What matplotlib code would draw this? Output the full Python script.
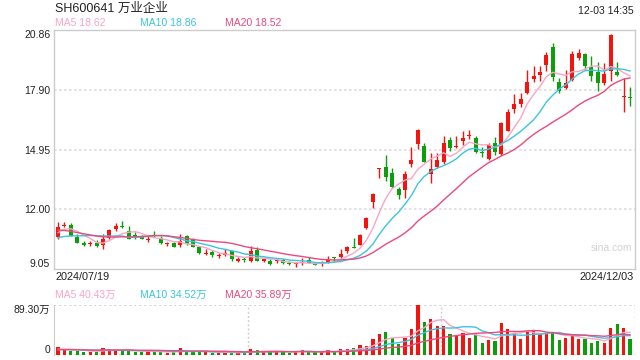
import matplotlib
matplotlib.use('Agg')
import matplotlib.pyplot as plt
import numpy as np
import pandas as pd

plt.rcParams['font.family'] = ['Liberation Sans', 'Noto Sans CJK SC', 'DejaVu Sans']

# 日K 2024/07/19 - 2024/12/03
opens = [10.65, 11.16, 11.23, 10.65, 10.35, 10.27, 10.35, 10.22, 10.58, 11.03,
         11.19, 10.93, 10.70, 10.65, 10.50, 10.72, 10.60, 10.27, 10.34, 10.25,
         10.70, 10.52, 10.14, 9.79, 9.87, 9.68, 9.73, 9.96, 9.46, 9.51,
         9.45, 9.99, 9.47, 9.45, 9.43, 9.48, 9.35, 9.28, 9.33, 9.48,
         9.35, 9.31, 9.40, 9.61, 9.64, 9.94, 10.16, 10.25, 11.08, 12.37,
         14.02, 14.08, 13.80, 12.99, 12.96, 14.23, 15.22, 15.14, 13.74, 14.12,
         14.33, 15.45, 15.07, 15.40, 15.63, 15.54, 14.84, 14.51, 15.29, 14.74,
         15.90, 16.99, 17.23, 17.76, 18.47, 18.67, 19.13, 20.04, 18.31, 18.01,
         18.39, 19.50, 19.69, 19.03, 18.80, 18.26, 18.84, 18.80, 17.55, 17.53]
highs = [11.36, 11.36, 11.31, 10.77, 10.45, 10.45, 10.48, 10.77, 11.01, 11.31,
         11.41, 11.18, 10.90, 10.75, 10.68, 10.95, 10.68, 10.40, 10.37, 10.78,
         10.73, 10.57, 10.17, 10.06, 9.99, 9.83, 10.02, 9.99, 9.66, 9.63,
         10.20, 10.16, 9.61, 9.54, 9.56, 9.56, 9.46, 9.41, 9.61, 9.64,
         9.41, 9.45, 9.69, 9.66, 10.02, 10.20, 10.58, 10.78, 11.64, 12.81,
         14.06, 14.69, 14.05, 13.09, 13.92, 15.07, 15.96, 15.29, 14.77, 14.81,
         15.65, 15.57, 15.62, 15.87, 15.92, 15.62, 15.09, 15.29, 15.57, 16.33,
         16.97, 17.73, 17.76, 18.88, 19.11, 19.11, 19.79, 20.22, 18.51, 18.92,
         19.83, 19.94, 19.74, 19.58, 19.30, 19.25, 20.70, 19.30, 18.51, 18.08]
lows = [10.53, 11.11, 10.68, 10.32, 10.20, 10.20, 10.15, 10.02, 10.52, 10.95,
        11.06, 10.53, 10.53, 10.52, 10.37, 10.62, 10.27, 10.20, 10.12, 10.12,
        10.24, 10.12, 9.81, 9.74, 9.66, 9.59, 9.69, 9.46, 9.41, 9.41,
        9.41, 9.43, 9.41, 9.23, 9.33, 9.31, 9.23, 9.13, 9.23, 9.33,
        9.23, 9.18, 9.33, 9.41, 9.59, 9.83, 10.09, 10.22, 11.05, 12.09,
        13.57, 13.42, 13.04, 12.53, 12.58, 14.12, 14.99, 14.33, 13.29, 14.03,
        14.25, 14.91, 15.04, 15.17, 15.49, 14.79, 14.59, 14.46, 14.71, 14.71,
        15.87, 16.77, 17.07, 17.73, 18.31, 18.34, 18.84, 18.34, 17.76, 17.96,
        18.34, 19.38, 18.88, 18.34, 17.84, 18.14, 18.34, 18.59, 16.81, 17.14]
closes = [11.11, 11.21, 10.70, 10.35, 10.25, 10.32, 10.20, 10.53, 10.98, 11.18,
          11.11, 10.55, 10.67, 10.55, 10.53, 10.68, 10.35, 10.32, 10.15, 10.42,
          10.27, 10.15, 9.86, 9.83, 9.73, 9.71, 9.83, 9.53, 9.56, 9.48,
          9.94, 9.46, 9.51, 9.31, 9.46, 9.36, 9.31, 9.31, 9.36, 9.36,
          9.25, 9.35, 9.51, 9.58, 9.81, 10.16, 10.11, 10.73, 11.59, 12.76,
          14.04, 13.62, 13.13, 12.73, 13.74, 14.45, 15.93, 14.36, 14.00, 14.45,
          15.27, 15.04, 15.12, 15.54, 15.68, 14.84, 14.78, 15.17, 14.84, 16.28,
          16.82, 17.22, 17.48, 18.31, 18.59, 18.82, 19.66, 18.55, 17.88, 18.26,
          19.71, 19.74, 19.12, 18.62, 18.27, 18.70, 20.65, 18.64, 17.58, 17.50]
# 成交量 (万手)
volumes = [13.8, 8.4, 7.2, 7.2, 4.8, 4.8, 6.0, 12.0, 10.2, 8.4,
           7.8, 7.2, 4.8, 5.4, 7.2, 5.4, 4.8, 3.0, 4.2, 12.0,
           5.4, 5.4, 5.4, 4.8, 3.0, 3.0, 4.8, 3.6, 3.6, 3.0,
           10.8, 7.8, 5.4, 6.0, 6.0, 6.0, 3.6, 4.8, 7.8, 5.4,
           4.8, 4.8, 7.8, 5.4, 9.6, 9.6, 11.4, 16.8, 15.0, 27.6,
           37.2, 40.8, 30.0, 19.2, 30.6, 46.1, 89.3, 58.7, 64.1, 51.5,
           51.5, 37.2, 35.4, 38.4, 30.0, 38.4, 21.6, 27.0, 24.6, 57.5,
           46.1, 38.4, 28.2, 41.4, 44.4, 36.6, 39.6, 39.6, 26.4, 30.6,
           36.0, 28.2, 28.2, 21.6, 24.6, 21.6, 48.5, 55.7, 48.5, 28.2]

# 窗口之前的日子（估计，只给均线起点用）
prior_closes = [11.70, 11.62, 11.55, 11.48, 11.40, 11.35, 11.30, 11.22, 11.10, 10.95,
                10.60, 10.45, 10.30, 10.20, 10.20, 10.35, 10.60, 11.00, 11.19]
prior_volumes = [9.5, 10.2, 8.8, 9.0, 11.0, 9.6, 8.4, 9.2, 10.0, 8.6,
                 7.8, 8.2, 9.4, 7.6, 8.8, 7.4, 8.0, 9.0, 10.4]

price_ticks = [9.05, 12.00, 14.95, 17.90, 20.86]
price_ma_text = ['MA5 18.62', 'MA10 18.86', 'MA20 18.52']
vol_ma_text = ['MA5 40.43万', 'MA10 34.52万', 'MA20 35.89万']
vol_top = 89.30
first_date, last_date = '2024/07/19', '2024/12/03'

RED = '#f3140e'
GREEN = '#0c9f0c'
MA_COLORS = ['#f7a6c6', '#3cc4e0', '#ea4a7c']
GRID = '#dddddd'
FRAME = '#cccccc'

n = len(closes)
x = np.arange(n)
o = np.array(opens); c = np.array(closes)
up = c >= o
colors = [RED if u else GREEN for u in up]

def ma(prior, vals, w):
    s = pd.Series(prior + vals)
    return s.rolling(w, min_periods=1).mean().iloc[len(prior):].values

fig = plt.figure(figsize=(6.4, 3.6), dpi=100, facecolor='white')
ax = fig.add_axes([0.0848, 0.2528, 0.9074, 0.6628])
axv = fig.add_axes([0.0848, 0.0147, 0.9074, 0.1381])
xl = (-0.58, n - 1 + 0.78)

# --- price
for y in price_ticks[1:-1]:
    ax.axhline(y, color=GRID, lw=1.2, ls=(0, (1.5, 1.5)), zorder=0)
ax.vlines(x, lows, highs, colors=colors, lw=1, zorder=2)
body = np.maximum(np.abs(c - o), 0.05)
ax.bar(x, body, bottom=np.minimum(o, c), width=0.62, color=colors, lw=0, zorder=3)
for w, col in zip([5, 10, 20], MA_COLORS):
    ax.plot(x, ma(prior_closes, closes, w), color=col, lw=1.0, zorder=4)

ax.set_xlim(xl)
ax.set_ylim(price_ticks[0], price_ticks[-1])
ax.set_xticks([])
ax.set_yticks(price_ticks)
ax.set_yticklabels(['%.2f' % t for t in price_ticks])
ax.tick_params(axis='y', length=0, pad=3, labelsize=7.5, labelcolor='#222222')
lbl = ax.get_yticklabels()
lbl[0].set_va('bottom')
lbl[-1].set_va('top')
for s in ax.spines.values():
    s.set_color(FRAME)
    s.set_linewidth(1)
ax.text(0.995, 0.09, 'sina.com', transform=ax.transAxes, ha='right', va='center',
        fontsize=7.5, color='#d2d2d2')

# --- volume
axv.bar(x, volumes, width=0.5, color=colors, lw=0, zorder=2)
for w, col in zip([5, 10, 20], MA_COLORS):
    axv.plot(x, ma(prior_volumes, volumes, w), color=col, lw=1.0, zorder=3)
axv.set_xlim(xl)
axv.set_ylim(0, vol_top)
for xf in [xl[0] + (xl[1] - xl[0]) / 3, xl[0] + 2 * (xl[1] - xl[0]) / 3, xl[1]]:
    axv.axvline(xf, color='#d0d0d0', lw=1, ls=(0, (1.5, 1.5)), zorder=0)
axv.axhline(vol_top, color='#d0d0d0', lw=1.2, ls=(0, (1.5, 1.5)), zorder=0)
axv.axhline(0, color='#d0d0d0', lw=1.2, ls=(0, (1.5, 1.5)), zorder=1)
axv.set_xticks([])
axv.set_yticks([0, vol_top])
axv.set_yticklabels(['0', '%.2f万' % vol_top])
axv.tick_params(axis='y', length=0, pad=3, labelsize=7.5, labelcolor='#222222')
vl = axv.get_yticklabels()
vl[0].set_va('bottom')
vl[1].set_va('top')
for k in ['top', 'right', 'bottom']:
    axv.spines[k].set_visible(False)
axv.spines['left'].set_color(FRAME)

# --- texts
W, H = 640.0, 360.0
fig.text(55 / W, 1 - 8.5 / H, 'SH600641 万业企业', fontsize=9, va='center', ha='left', color='#222222')
fig.text(634 / W, 1 - 10.5 / H, '12-03 14:35', fontsize=7.5, va='center', ha='right', color='#222222')
for xp, t, col in zip([55, 140, 225], price_ma_text, MA_COLORS):
    fig.text(xp / W, 1 - 23.5 / H, t, fontsize=7.5, va='center', ha='left', color=col)
for xp, t, col in zip([55, 140, 225], vol_ma_text, MA_COLORS):
    fig.text(xp / W, 1 - 295 / H, t, fontsize=7.5, va='center', ha='left', color=col)
fig.text(55 / W, 1 - 277 / H, first_date, fontsize=7.8, va='center', ha='left', color='#222222')
fig.text(634 / W, 1 - 277 / H, last_date, fontsize=7.8, va='center', ha='right', color='#222222')

fig.savefig('out.png', dpi=100, facecolor='white')
